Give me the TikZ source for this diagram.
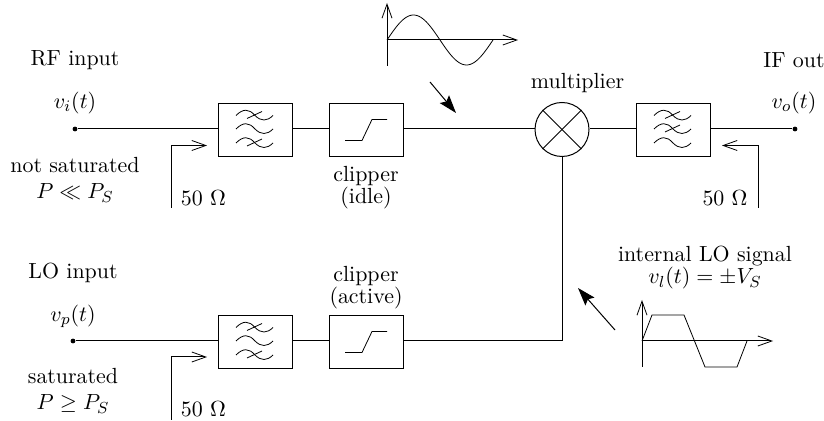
\documentclass[tikz,border=0pt]{standalone}
\usetikzlibrary{arrows.meta}
\tikzset{
  x=0.5pt,y=-0.5pt,
  wire/.style={line width=0.5pt},
  boxn/.style={draw,line width=0.5pt,minimum width=37pt,minimum height=26.5pt,inner sep=0pt},
  opena/.style={-{Straight Barb[length=7pt,width=5pt,line width=0.4pt]}},
  solida/.style={-{Stealth[length=9pt,width=6pt,inset=1.5pt]}},
  lab/.style={inner sep=0pt,align=center,font=\fontsize{10.95}{11}\selectfont},
  labwide/.style={inner sep=0pt,align=center,font=\fontsize{10.95}{13}\selectfont},
  dotn/.style={circle,fill,inner sep=0pt,minimum size=2.4pt},
}
\newcommand{\lpfsym}[2]{%
  \begin{scope}[shift={(#1)},line width=0.4pt]
  \foreach \d in {-14.5,-1,13}{
    \draw (-19,\d) .. controls (-12,\d-7) and (-6,\d-7) .. (0,\d) .. controls (6,\d+6) and (12,\d+6) .. (18,\d);}
  \foreach \d in {#2}{
    \draw (-8,\d+3) -- (7,\d-4);}
  \end{scope}}
\newcommand{\clipsym}[1]{%
  \begin{scope}[shift={(#1)},line width=0.4pt]
  \draw (-21,11) -- (-4,11) -- (6,-10) -- (21,-10);
  \end{scope}}
\begin{document}
\begin{tikzpicture}
\useasboundingbox (0,0) rectangle (824,421);
% top row
\node[dotn] (rfin) at (75,129) {};
\node[boxn] (f1) at (255,130) {};
\node[boxn] (c1) at (366,130) {};
\node[circle,draw,line width=0.5pt,minimum size=27pt,inner sep=0pt] (mix) at (562,129.5) {};
\node[boxn] (f2) at (673,130) {};
\node[dotn] (ifout) at (795,129) {};
\draw[wire] (rfin) -- (rfin -| f1.west);
\draw[wire] (f1.east |- rfin) -- (rfin -| c1.west);
\draw[wire] (c1.east |- rfin) -- (rfin -| mix.west);
\draw[wire] (mix.east |- rfin) -- (rfin -| f2.west);
\draw[wire] (f2.east |- rfin) -- (ifout);
\draw[wire] (mix.north west) -- (mix.south east);
\draw[wire] (mix.north east) -- (mix.south west);
\lpfsym{255,130}{-14.5,13}
\lpfsym{673,130}{-14.5,-1}
\clipsym{366,129.5}
% bottom row
\node[dotn] (loin) at (73,341) {};
\node[boxn] (f3) at (255,342) {};
\node[boxn] (c2) at (366,342) {};
\coordinate (corner) at (562,341);
\draw[wire] (loin) -- (loin -| f3.west);
\draw[wire] (f3.east |- loin) -- (loin -| c2.west);
\draw[wire] (c2.east |- loin) -- (corner) -- (mix);
\lpfsym{255,342}{-14.5,13}
\clipsym{366,341.5}
% impedance arrows
\coordinate (a1) at (171,208); \coordinate (a1b) at (171,145.5); \coordinate (a1c) at (207,145.5);
\coordinate (a2) at (758,208); \coordinate (a2b) at (758,145.5); \coordinate (a2c) at (722,145.5);
\coordinate (a3) at (171,420); \coordinate (a3b) at (171,357); \coordinate (a3c) at (207,357);
\draw[wire,opena] (a1) -- (a1b) -- (a1c);
\draw[wire,opena] (a2) -- (a2b) -- (a2c);
\draw[wire,opena] (a3) -- (a3b) -- (a3c);
% sine
\coordinate (s0) at (387,40); \coordinate (sv) at (387,66); \coordinate (svt) at (387,3); \coordinate (sh) at (518,40);
\draw[wire,opena] (sv) -- (svt);
\draw[wire,opena] (s0) -- (sh);
\draw[line width=0.4pt] plot[domain=0:360,samples=60,smooth] ({387+\x/360*106},{40-25*sin(\x)});
\coordinate (p1) at (430,82); \coordinate (p1e) at (456,113);
\draw[wire,solida] (p1) -- (p1e);
% LO wave
\coordinate (t0) at (642,341); \coordinate (tv) at (642,367); \coordinate (tvt) at (642,300); \coordinate (th) at (773,341);
\draw[wire,opena] (tv) -- (tvt);
\draw[wire,opena] (t0) -- (th);
\draw[line width=0.4pt] (642,341) -- (652,315) -- (684,315) -- (705,367) -- (737,367) -- (747,341);
\coordinate (p2) at (615,330); \coordinate (p2e) at (578,288);
\draw[wire,solida] (p2) -- (p2e);
% labels
\node[lab] (t1) at (75,60) {RF input};
\node[lab] (t2) at (75,103) {$v_i(t)$};
\node[labwide] (t3) at (75,180) {not saturated\\$P\ll P_S$};
\node[lab] (t4) at (203.5,198) {50 $\Omega$};
\node[lab] (t5) at (366,188) {clipper\\(idle)};
\node[lab] (t6) at (577.5,83) {multiplier};
\node[lab] (t7) at (794,60) {IF out};
\node[lab] (t8) at (794,103) {$v_o(t)$};
\node[lab] (t9) at (725,198) {50 $\Omega$};
\node[lab] (t10) at (73,273) {LO input};
\node[lab] (t11) at (73,316) {$v_p(t)$};
\node[labwide] (t12) at (73,391) {saturated\\$P\ge P_S$};
\node[lab] (t13) at (203.5,409) {50 $\Omega$};
\node[lab] (t14) at (366,288) {clipper\\(active)};
\node[lab] (t15) at (705,268) {internal LO signal\\$v_l(t)=\pm V_S$};
\end{tikzpicture}
\end{document}
